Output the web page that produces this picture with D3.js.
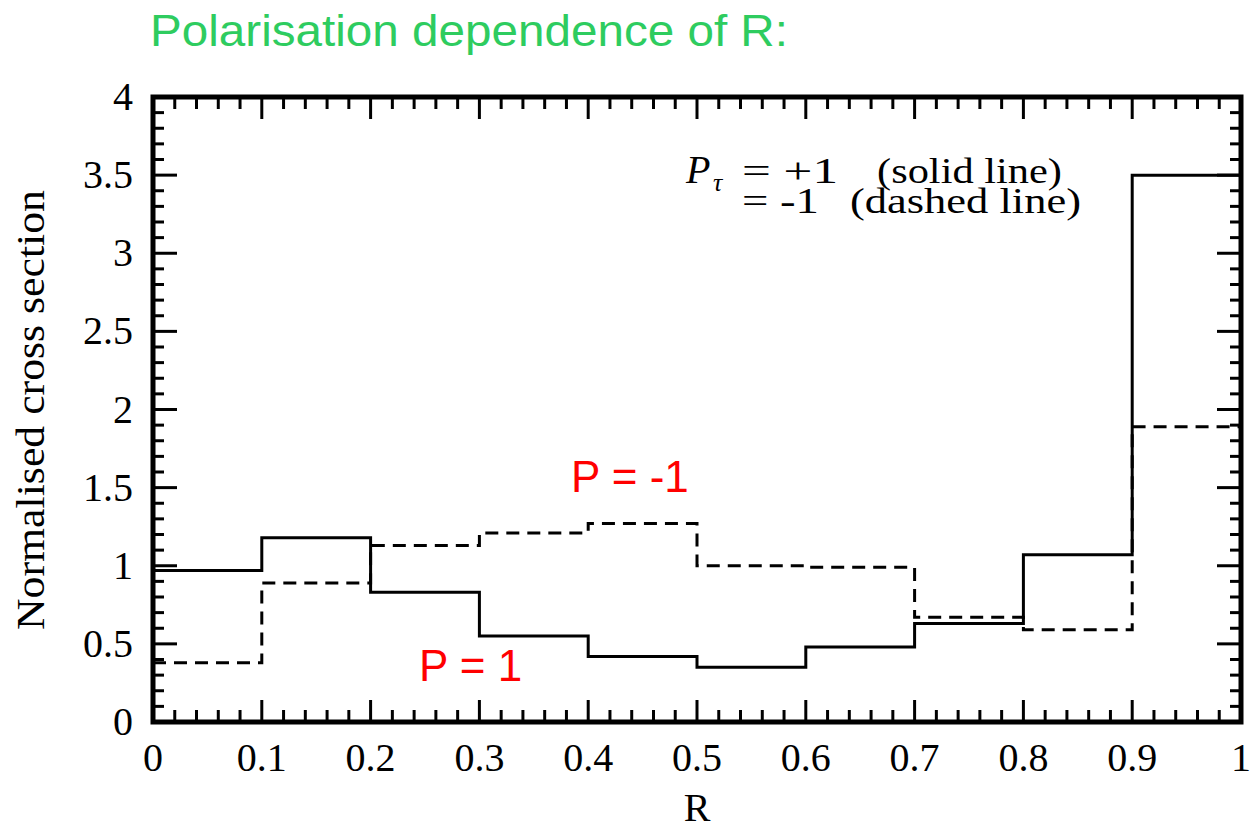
<!DOCTYPE html>
<html>
<head>
<meta charset="utf-8">
<script src="https://cdn.jsdelivr.net/npm/d3@7"></script>
<style>
  html, body { margin: 0; padding: 0; background: #fff; }
  svg { display: block; }
</style>
</head>
<body>
<svg id="chart" width="1253" height="830"></svg>
<script>
// bin edges and heights for the two histograms
const binEdges = [0, 0.1, 0.2, 0.3, 0.4, 0.5, 0.6, 0.7, 0.8, 0.9, 1.0];
const solidValues = [0.97, 1.18, 0.83, 0.55, 0.42, 0.35, 0.48, 0.63, 1.07, 3.5];
const dashedValues = [0.38, 0.89, 1.13, 1.21, 1.27, 1.00, 0.99, 0.67, 0.59, 1.89];

const xTickValues = [0, 0.1, 0.2, 0.3, 0.4, 0.5, 0.6, 0.7, 0.8, 0.9, 1];
const xTickLabels = ["0", "0.1", "0.2", "0.3", "0.4", "0.5", "0.6", "0.7", "0.8", "0.9", "1"];
const yTickValues = [0, 0.5, 1, 1.5, 2, 2.5, 3, 3.5, 4];
const yTickLabels = ["0", "0.5", "1", "1.5", "2", "2.5", "3", "3.5", "4"];

const svg = d3.select("#chart");
const serif = "'Liberation Serif', 'Times New Roman', serif";

let x = d3.scaleLinear().domain([0, 1]).range([153, 1241]);
let y = d3.scaleLinear().domain([0, 4]).range([722, 97]);

// title
svg.append("text")
    .attr("x", 150)
    .attr("y", 46)
    .attr("textLength", 638)
    .attr("lengthAdjust", "spacingAndGlyphs")
    .style("font-family", "'Liberation Sans', Arial, sans-serif")
    .style("font-size", "44px")
    .style("fill", "#2ecc5f")
    .text("Polarisation dependence of R:");

// step lines (extend last bin to the right edge)
function stepPoints(values) {
    let pts = values.map((v, i) => [binEdges[i], v]);
    pts.push([binEdges[binEdges.length - 1], values[values.length - 1]]);
    return pts;
}

const line = d3.line()
    .x(d => x(d[0]))
    .y(d => y(d[1]))
    .curve(d3.curveStepAfter);

svg.append("path")
    .datum(stepPoints(dashedValues))
    .attr("d", line)
    .attr("fill", "none")
    .attr("stroke", "#000")
    .attr("stroke-width", 3)
    .attr("stroke-dasharray", "13,8");

svg.append("path")
    .datum(stepPoints(solidValues))
    .attr("d", line)
    .attr("fill", "none")
    .attr("stroke", "#000")
    .attr("stroke-width", 3);

// ticks on all four sides
const ticks = svg.append("g").attr("stroke", "#000").attr("stroke-width", 3);
const xMinor = d3.range(0, 1.0001, 0.02);
const yMinor = d3.range(0, 4.0001, 0.1);

xMinor.forEach((v, i) => {
    const len = i % 5 === 0 ? 22 : 12;
    ticks.append("line").attr("x1", x(v)).attr("x2", x(v))
        .attr("y1", y(0)).attr("y2", y(0) - len);
    ticks.append("line").attr("x1", x(v)).attr("x2", x(v))
        .attr("y1", y(4)).attr("y2", y(4) + len);
});
yMinor.forEach((v, i) => {
    const len = i % 5 === 0 ? 24 : 11;
    ticks.append("line").attr("y1", y(v)).attr("y2", y(v))
        .attr("x1", x(0)).attr("x2", x(0) + len);
    ticks.append("line").attr("y1", y(v)).attr("y2", y(v))
        .attr("x1", x(1)).attr("x2", x(1) - len);
});

// frame
svg.append("rect")
    .attr("x", x(0))
    .attr("y", y(4))
    .attr("width", x(1) - x(0))
    .attr("height", y(0) - y(4))
    .attr("fill", "none")
    .attr("stroke", "#000")
    .attr("stroke-width", 5);

// tick labels
svg.append("g").selectAll("text")
    .data(xTickValues)
    .join("text")
    .attr("x", d => x(d))
    .attr("y", 771)
    .attr("text-anchor", "middle")
    .style("font-family", serif)
    .style("font-size", "40px")
    .text((d, i) => xTickLabels[i]);

svg.append("g").selectAll("text")
    .data(yTickValues)
    .join("text")
    .attr("x", 133)
    .attr("y", d => y(d) + 13)
    .attr("text-anchor", "end")
    .style("font-family", serif)
    .style("font-size", "40px")
    .text((d, i) => yTickLabels[i]);

// axis titles
svg.append("text")
    .attr("x", x(0.5))
    .attr("y", 821)
    .attr("text-anchor", "middle")
    .style("font-family", serif)
    .style("font-size", "40px")
    .text("R");

svg.append("text")
    .attr("transform", "translate(44,410) rotate(-90)")
    .attr("text-anchor", "middle")
    .attr("textLength", 440)
    .attr("lengthAdjust", "spacingAndGlyphs")
    .style("font-family", serif)
    .style("font-size", "40px")
    .text("Normalised cross section");

// legend text, placed piece by piece like the LaTeX original
const legend = svg.append("g")
    .style("font-family", serif)
    .style("font-size", "36px");

legend.append("text").attr("x", 686).attr("y", 183)
    .style("font-style", "italic").style("font-size", "40px").text("P");
legend.append("text").attr("x", 713).attr("y", 191)
    .style("font-style", "italic").style("font-size", "26px").text("τ");
legend.append("text").attr("x", 742).attr("y", 183)
    .attr("textLength", 96).attr("lengthAdjust", "spacingAndGlyphs").text("= +1");
legend.append("text").attr("x", 877).attr("y", 183)
    .attr("textLength", 185).attr("lengthAdjust", "spacingAndGlyphs").text("(solid line)");
legend.append("text").attr("x", 742).attr("y", 213)
    .attr("textLength", 77).attr("lengthAdjust", "spacingAndGlyphs").text("= -1");
legend.append("text").attr("x", 850).attr("y", 213)
    .attr("textLength", 231).attr("lengthAdjust", "spacingAndGlyphs").text("(dashed line)");

// red annotations
const red = svg.append("g")
    .style("font-family", "'Liberation Sans', Arial, sans-serif")
    .style("font-size", "44px")
    .style("fill", "#ff0000");

red.append("text").attr("x", 571).attr("y", 492).text("P = -1");
red.append("text").attr("x", 419).attr("y", 681).text("P = 1");
</script>
</body>
</html>
